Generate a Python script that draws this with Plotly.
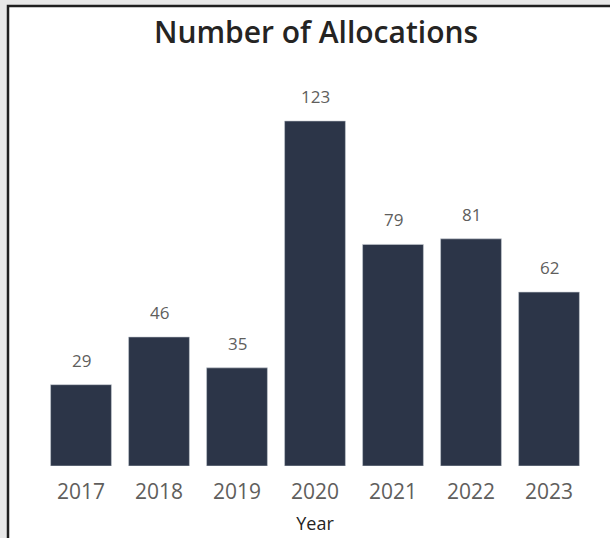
import plotly.graph_objects as go

years = ["2017", "2018", "2019", "2020", "2021", "2022", "2023"]
allocations = [29, 46, 35, 123, 79, 81, 62]

W, H = 610, 538
L, R, T, B = 42, 22, 60, 72
PW, PH = W - L - R, H - T - B

def pxx(px):
    return (px - L) / PW

def pyy(py):
    return (H - B - py) / PH

FONT = "Open Sans"

fig = go.Figure(
    go.Bar(
        x=years,
        y=allocations,
        marker=dict(color="#2C3548", line=dict(color="#c8ccd4", width=0.6)),
        width=0.78,
        hoverinfo="x+y",
    )
)

for i, (yr, v) in enumerate(zip(years, allocations)):
    fig.add_annotation(
        x=i, y=v, text=str(v), showarrow=False, yanchor="bottom",
        yshift=11, font=dict(family=FONT, size=17, color="#605E5C"),
    )

fig.add_shape(
    type="rect", xref="paper", yref="paper", layer="below",
    x0=pxx(8), x1=pxx(640), y0=pyy(560), y1=pyy(6),
    fillcolor="white", line=dict(color="#1f1f1f", width=2.5),
)

fig.update_layout(
    width=W, height=H,
    margin=dict(l=L, r=R, t=T, b=B, pad=0),
    paper_bgcolor="#e8e8e8",
    plot_bgcolor="rgba(0,0,0,0)",
    title=dict(
        text="Number of Allocations", x=(316) / W, xanchor="center",
        y=1 - 32 / H, yanchor="middle",
        font=dict(family=FONT, size=30, color="#252423", weight=600),
    ),
    xaxis=dict(
        type="category",
        automargin=False,
        range=[-0.5, len(years) - 0.5],
        title=dict(text="Year", font=dict(family=FONT, size=18, color="#252423"), standoff=13),
        tickfont=dict(family=FONT, size=21, color="#605E5C"),
        ticks="outside", ticklen=7, tickcolor="rgba(0,0,0,0)",
        showgrid=False, showline=False, zeroline=False,
    ),
    yaxis=dict(
        range=[0, PH / 2.805], visible=False, showgrid=False, zeroline=False,
        automargin=False,
    ),
    showlegend=False,
)

fig.write_html(
    "out.html",
    config={"displayModeBar": False},
    post_script="document.body.style.margin='0';document.body.style.overflow='hidden';",
)
